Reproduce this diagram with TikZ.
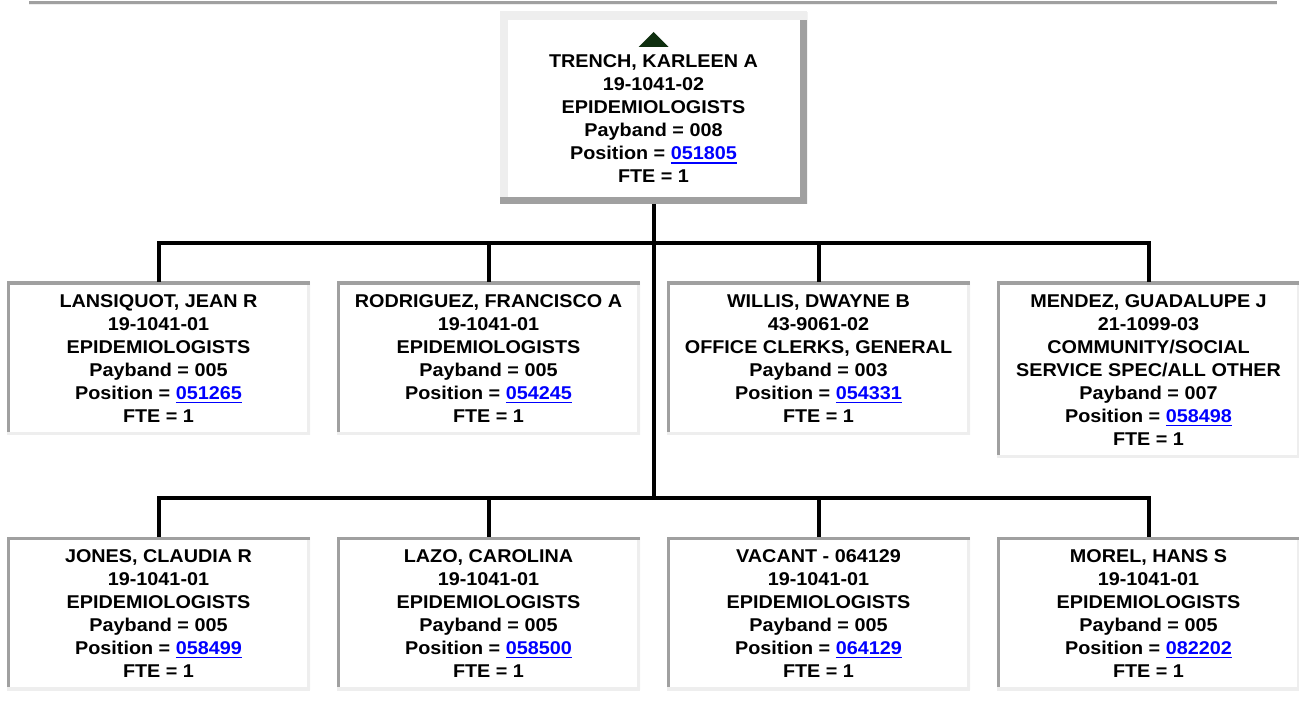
\documentclass[tikz,border=0pt]{standalone}
\usepackage{fontspec}
\setmainfont{Liberation Sans}[FakeStretch=1.07]
\usepackage{tikz}
\usetikzlibrary{positioning}

\definecolor{edgedark}{HTML}{A0A0A0}
\definecolor{edgelight}{HTML}{EEEEEE}
\definecolor{linkblue}{HTML}{0000FF}
\definecolor{upgreen}{HTML}{0F2F0F}
\newcommand{\poslink}[1]{{\color{linkblue}\sbox0{#1}\rlap{\rule[-3.9pt]{\wd0}{1.7pt}}\usebox0}}

\begin{document}
\begin{tikzpicture}[
    x=1pt, y=-1pt,
    node distance=102pt and 27pt,
    card/.style={rectangle, fill=white, inner sep=0pt, outer sep=0pt, align=center,
        font=\fontsize{18.5pt}{23pt}\selectfont\bfseries},
    boss/.style={card, minimum width=307pt, minimum height=192pt,
        path picture={
            \draw[edgedark, line width=14pt] (path picture bounding box.north east) -- (path picture bounding box.south east);
            \draw[edgelight, line width=16pt] (path picture bounding box.north west) -- (path picture bounding box.south west);
            \draw[edgelight, line width=16pt] (path picture bounding box.north west) -- (path picture bounding box.north east);
            \draw[edgedark, line width=14pt] (path picture bounding box.south west) -- (path picture bounding box.south east);
        }},
    kid/.style={card, minimum width=303pt, minimum height=153pt,
        path picture={
            \draw[edgelight, line width=6pt] (path picture bounding box.north east) -- (path picture bounding box.south east);
            \draw[edgedark, line width=6pt] (path picture bounding box.north west) -- (path picture bounding box.south west);
            \draw[edgedark, line width=6pt] (path picture bounding box.north west) -- (path picture bounding box.north east);
            \draw[edgelight, line width=6pt] (path picture bounding box.south west) -- (path picture bounding box.south east);
        }},
    wire/.style={line width=4pt}
]
\useasboundingbox (0,0) rectangle (1299,708);

% page rule
\draw[edgedark, line width=3pt] (29,2.5) -- (1277,2.5);
\draw[edgelight, line width=1.2pt] (29,4.6) -- (1277,4.6);

% supervisor
\node[boss] (trench) at (653.5,108) {\rule{0pt}{35pt}TRENCH, KARLEEN A\\19-1041-02\\EPIDEMIOLOGISTS\\Payband = 008\\Position = \poslink{051805}\\FTE = 1};
\coordinate (apex) at ([yshift=-20pt]trench.north);
\fill[upgreen] (apex) -- ++(-15,15) -- ++(30,0) -- cycle;

% first row
\node[kid, anchor=north] (lans) at (158.5,282) {LANSIQUOT, JEAN R\\19-1041-01\\EPIDEMIOLOGISTS\\Payband = 005\\Position = \poslink{051265}\\FTE = 1};
\node[kid, right=of lans] (rodr) {RODRIGUEZ, FRANCISCO A\\19-1041-01\\EPIDEMIOLOGISTS\\Payband = 005\\Position = \poslink{054245}\\FTE = 1};
\node[kid, right=of rodr] (willis) {WILLIS, DWAYNE B\\43-9061-02\\OFFICE CLERKS, GENERAL\\Payband = 003\\Position = \poslink{054331}\\FTE = 1};
\node[kid, minimum height=176pt, right=of willis.north east, anchor=north west] (mendez) {MENDEZ, GUADALUPE J\\21-1099-03\\COMMUNITY/SOCIAL\\SERVICE SPEC/ALL OTHER\\Payband = 007\\Position = \poslink{058498}\\FTE = 1};

% second row
\node[kid, below=of lans] (jones) {JONES, CLAUDIA R\\19-1041-01\\EPIDEMIOLOGISTS\\Payband = 005\\Position = \poslink{058499}\\FTE = 1};
\node[kid, right=of jones] (lazo) {LAZO, CAROLINA\\19-1041-01\\EPIDEMIOLOGISTS\\Payband = 005\\Position = \poslink{058500}\\FTE = 1};
\node[kid, right=of lazo] (vacant) {VACANT - 064129\\19-1041-01\\EPIDEMIOLOGISTS\\Payband = 005\\Position = \poslink{064129}\\FTE = 1};
\node[kid, right=of vacant] (morel) {MOREL, HANS S\\19-1041-01\\EPIDEMIOLOGISTS\\Payband = 005\\Position = \poslink{082202}\\FTE = 1};

% tree lines
\coordinate (hubA) at (653.5,243);
\coordinate (hubB) at (653.5,497.5);
\draw[wire] (trench.south) -- (hubB);
\draw[wire] (lans.north) |- (hubA) -| (mendez.north);
\draw[wire] (rodr.north) |- (hubA);
\draw[wire] (willis.north) |- (hubA);
\draw[wire] (jones.north) |- (hubB) -| (morel.north);
\draw[wire] (lazo.north) |- (hubB);
\draw[wire] (vacant.north) |- (hubB);

\end{tikzpicture}
\end{document}
